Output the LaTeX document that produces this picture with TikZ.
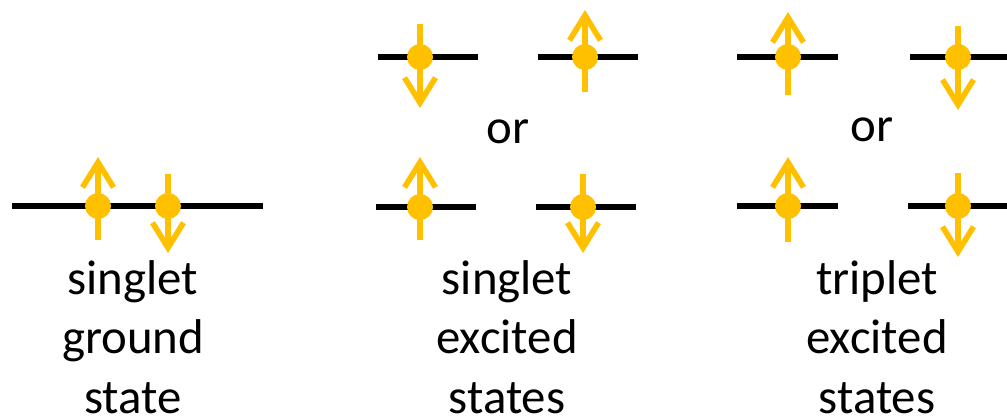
\documentclass[tikz,border=0pt]{standalone}
\usepackage{fontspec}
\setmainfont{Carlito}
\usepackage{tikz}
\usetikzlibrary{arrows.meta}
\definecolor{Spin}{HTML}{FFC000}
\tikzstyle{none}=[inner sep=0pt]
\tikzstyle{level}=[-,draw=black,line width=2.9pt]
\tikzstyle{spin}=[-{Straight Barb[length=0.5cm,width=0.62cm,line width=3.2pt]},draw=Spin,line width=3.4pt]
\tikzstyle{dot}=[circle,fill=Spin,inner sep=0pt,minimum size=0.52cm]
\tikzstyle{caption}=[inner sep=0pt,align=center,font=\fontsize{27.8}{34}\selectfont]
\tikzstyle{word}=[inner sep=0pt,font=\fontsize{27.8}{34}\selectfont]

\begin{document}
\begin{tikzpicture}[x=0.02cm,y=-0.02cm]
  \useasboundingbox (0,0) rectangle (1007,417);
  % singlet ground state
  \node [style=none] (gL) at (12, 206) {};
  \node [style=none] (gR) at (263, 206) {};
  \node [style=none] (g1b) at (98, 240) {};
  \node [style=none] (g1t) at (98, 157) {};
  \node [style=none] (g2t) at (168, 174) {};
  \node [style=none] (g2b) at (168, 253) {};
  \draw [style=level] (gL.center) to (gR.center);
  \draw [style=spin] (g1b.center) to (g1t.center);
  \draw [style=spin] (g2t.center) to (g2b.center);
  \node [style=dot] (g1) at (98, 206) {};
  \node [style=dot] (g2) at (168, 206) {};
  % singlet excited states
  \node [style=none] (s1L) at (378, 57) {};
  \node [style=none] (s1R) at (478, 57) {};
  \node [style=none] (s2L) at (538, 57) {};
  \node [style=none] (s2R) at (638, 57) {};
  \node [style=none] (s3L) at (376, 207) {};
  \node [style=none] (s3R) at (476, 207) {};
  \node [style=none] (s4L) at (536, 207) {};
  \node [style=none] (s4R) at (636, 207) {};
  \node [style=none] (s1t) at (420, 24) {};
  \node [style=none] (s1b) at (420, 108) {};
  \node [style=none] (s2b) at (585, 92) {};
  \node [style=none] (s2t) at (585, 10) {};
  \node [style=none] (s3b) at (420, 240) {};
  \node [style=none] (s3t) at (420, 157) {};
  \node [style=none] (s4t) at (583, 174) {};
  \node [style=none] (s4b) at (583, 253) {};
  \draw [style=level] (s1L.center) to (s1R.center);
  \draw [style=level] (s2L.center) to (s2R.center);
  \draw [style=level] (s3L.center) to (s3R.center);
  \draw [style=level] (s4L.center) to (s4R.center);
  \draw [style=spin] (s1t.center) to (s1b.center);
  \draw [style=spin] (s2b.center) to (s2t.center);
  \draw [style=spin] (s3b.center) to (s3t.center);
  \draw [style=spin] (s4t.center) to (s4b.center);
  \node [style=dot] (s1) at (420, 57) {};
  \node [style=dot] (s2) at (585, 57) {};
  \node [style=dot] (s3) at (420, 207) {};
  \node [style=dot] (s4) at (583, 207) {};
  \node [style=word] (sor) at (508, 132) {or};
  % triplet excited states
  \node [style=none] (t1L) at (737, 57) {};
  \node [style=none] (t1R) at (838, 57) {};
  \node [style=none] (t2L) at (910, 57) {};
  \node [style=none] (t2R) at (1010, 57) {};
  \node [style=none] (t3L) at (737, 206) {};
  \node [style=none] (t3R) at (838, 206) {};
  \node [style=none] (t4L) at (908, 206) {};
  \node [style=none] (t4R) at (1010, 206) {};
  \node [style=none] (t1b) at (788, 95) {};
  \node [style=none] (t1t) at (788, 12) {};
  \node [style=none] (t2t) at (958, 26) {};
  \node [style=none] (t2b) at (958, 110) {};
  \node [style=none] (t3b) at (788, 242) {};
  \node [style=none] (t3t) at (788, 157) {};
  \node [style=none] (t4t) at (958, 173) {};
  \node [style=none] (t4b) at (958, 257) {};
  \draw [style=level] (t1L.center) to (t1R.center);
  \draw [style=level] (t2L.center) to (t2R.center);
  \draw [style=level] (t3L.center) to (t3R.center);
  \draw [style=level] (t4L.center) to (t4R.center);
  \draw [style=spin] (t1b.center) to (t1t.center);
  \draw [style=spin] (t2t.center) to (t2b.center);
  \draw [style=spin] (t3b.center) to (t3t.center);
  \draw [style=spin] (t4t.center) to (t4b.center);
  \node [style=dot] (t1) at (788, 57) {};
  \node [style=dot] (t2) at (958, 57) {};
  \node [style=dot] (t3) at (788, 206) {};
  \node [style=dot] (t4) at (958, 206) {};
  \node [style=word] (tor) at (872, 130) {or};
  % captions
  \node [style=caption] (gcap) at (133, 337) {singlet\\ground\\state};
  \node [style=caption] (scap) at (507, 337) {singlet\\excited\\states};
  \node [style=caption] (tcap) at (877, 337) {triplet\\excited\\states};
\end{tikzpicture}
\end{document}
